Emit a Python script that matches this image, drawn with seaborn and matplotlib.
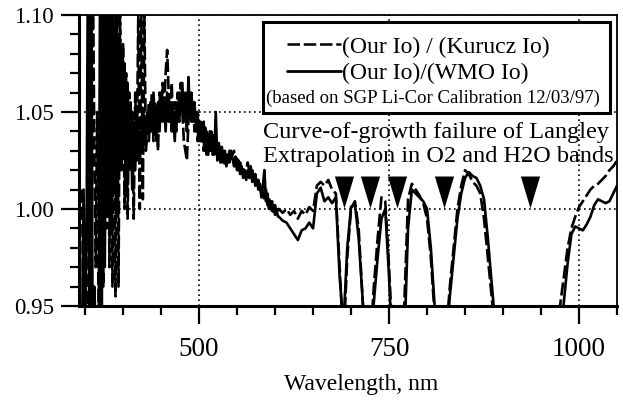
import numpy as np
import pandas as pd
import matplotlib
matplotlib.use("Agg")
import matplotlib.pyplot as plt
import seaborn as sns
from matplotlib.lines import Line2D
from matplotlib.patches import Rectangle
from matplotlib.ticker import MultipleLocator, FormatStrFormatter

# wavelength grid, nm (2 nm steps in the noisy blue part, 5 nm beyond)
wl_blue = np.arange(346, 606, 2)
wl_red = np.arange(605, 1055, 5)

# (Our Io)/(WMO Io) -- solid
wmo_blue = [
    0.93, 1.01, 0.94, 0.99, 1.15, 0.90, 1.16, 0.92, 0.96, 0.94,
    0.93, 0.94, 1.15, 0.95, 1.12, 0.97, 1.13, 1.00, 1.15, 0.99,
    1.12, 1.01, 1.10, 1.00, 1.09, 1.02, 1.08, 1.03, 1.075, 1.01,
    1.065, 1.02, 1.055, 1.01, 1.045, 1.02, 1.05, 1.03, 1.04, 1.03,
    1.05, 1.035, 1.045, 1.05, 1.035, 1.055, 1.04, 1.06, 1.045, 1.035,
    1.055, 1.04, 1.06, 1.045, 1.055, 1.04, 1.06, 1.045, 1.055, 1.04,
    1.05, 1.035, 1.055, 1.045, 1.06, 1.05, 1.065, 1.045, 1.06, 1.04,
    1.068, 1.05, 1.06, 1.045, 1.055, 1.04, 1.05, 1.035, 1.045, 1.035,
    1.045, 1.03, 1.04, 1.028, 1.04, 1.03, 1.038, 1.028, 1.05, 1.025,
    1.034, 1.024, 1.032, 1.026, 1.03, 1.022, 1.028, 1.024, 1.03, 1.026,
    1.022, 1.027, 1.02, 1.025, 1.018, 1.022, 1.016, 1.02, 1.015, 1.02,
    1.016, 1.022, 1.014, 1.018, 1.012, 1.015, 1.01, 1.013, 1.006, 1.012,
    1.02, 1.004, 1.008, 1.0, 1.004, 0.999, 1.002, 0.997, 0.999, 0.996,
]
wmo_red = [
    0.996, 0.994, 0.993, 0.99, 0.987, 0.984, 0.989, 0.99, 0.993, 0.99,
    1.008, 1.011, 1.004, 1.006, 1.003, 1.006, 0.965, 0.94, 0.98, 1.001,
    1.003, 0.985, 0.955, 0.92, 0.92, 0.952, 0.975, 0.995, 1.0, 0.965,
    0.92, 0.90, 0.90, 0.93, 0.99, 1.010, 1.008, 1.006, 1.004, 1.0,
    0.98, 0.95, 0.92, 0.90, 0.93, 0.955, 0.975, 0.995, 1.008, 1.016,
    1.019, 1.017, 1.016, 1.012, 1.005, 0.985, 0.962, 0.94, 0.92, 0.90,
    0.90, 0.90, 0.90, 0.90, 0.90, 0.90, 0.90, 0.90, 0.90, 0.90,
    0.90, 0.90, 0.90, 0.92, 0.935, 0.952, 0.972, 0.987, 0.991, 0.99,
    0.989, 0.992, 0.996, 1.002, 1.005, 1.004, 1.003, 1.004, 1.008, 1.012,
]

# (Our Io)/(Kurucz Io) -- dashed
kurucz_blue = [
    1.01, 0.94, 0.99, 0.93, 0.92, 1.16, 0.91, 1.14, 1.04, 0.97,
    1.05, 0.93, 0.93, 1.14, 0.96, 1.15, 0.99, 1.12, 0.97, 1.11,
    0.96, 1.09, 0.955, 1.13, 0.96, 1.10, 1.02, 1.085, 1.00, 1.07,
    0.995, 1.06, 1.03, 1.05, 0.995, 1.06, 1.025, 1.10, 1.00, 1.10,
    1.005, 1.10, 1.03, 1.04, 1.055, 1.04, 1.06, 1.035, 1.055, 1.05,
    1.03, 1.06, 1.045, 1.065, 1.05, 1.07, 1.082, 1.06, 1.045, 1.065,
    1.04, 1.055, 1.04, 1.06, 1.045, 1.065, 1.05, 1.035, 1.03, 1.025,
    1.045, 1.06, 1.045, 1.055, 1.04, 1.05, 1.035, 1.045, 1.035, 1.04,
    1.03, 1.042, 1.028, 1.038, 1.03, 1.04, 1.028, 1.036, 1.03, 1.034,
    1.026, 1.032, 1.024, 1.03, 1.022, 1.028, 1.024, 1.03, 1.026, 1.028,
    1.03, 1.022, 1.026, 1.02, 1.024, 1.02, 1.022, 1.017, 1.02, 1.024,
    1.02, 1.018, 1.02, 1.015, 1.018, 1.012, 1.015, 1.01, 1.012, 1.008,
    1.004, 1.01, 1.002, 1.006, 1.0, 1.004, 0.998, 1.002, 0.997, 1.0,
]
kurucz_red = [
    1.0, 0.998, 1.0, 0.997, 0.999, 0.995, 0.999, 0.997, 1.001, 0.999,
    1.012, 1.014, 1.012, 1.015, 1.01, 1.008, 0.97, 0.93, 0.975, 1.0,
    1.004, 0.99, 0.955, 0.92, 0.93, 0.96, 0.985, 1.006, 1.004, 0.97,
    0.93, 0.90, 0.91, 0.95, 1.005, 1.013, 1.01, 1.007, 1.003, 0.995,
    0.975, 0.945, 0.92, 0.91, 0.935, 0.96, 0.98, 1.0, 1.012, 1.02,
    1.018, 1.014, 1.012, 1.008, 0.995, 0.975, 0.955, 0.935, 0.91, 0.90,
    0.90, 0.90, 0.90, 0.90, 0.90, 0.90, 0.90, 0.90, 0.90, 0.90,
    0.90, 0.90, 0.91, 0.93, 0.95, 0.965, 0.98, 0.99, 0.996, 1.001,
    1.004, 1.007, 1.01, 1.012, 1.013, 1.015, 1.017, 1.02, 1.022, 1.025,
]

# O2 / H2O bands marked with arrows
band_nm = [691, 725, 760, 822, 935]
band_y = [1.009, 1.009, 1.009, 1.009, 1.009]

wl = np.concatenate([wl_blue, wl_red])
df = pd.DataFrame({
    "wl": np.concatenate([wl, wl]),
    "ratio": kurucz_blue + kurucz_red + wmo_blue + wmo_red,
    "series": ["kurucz"] * len(wl) + ["wmo"] * len(wl),
})

sns.set_style("ticks", {"axes.edgecolor": "black", "xtick.color": "black",
                        "ytick.color": "black", "text.color": "black",
                        "axes.labelcolor": "black"})
plt.rcParams["font.family"] = ["Liberation Serif", "DejaVu Serif"]

fig = plt.figure(figsize=(6.23, 4.03), dpi=100)
ax = fig.add_axes([0.1268, 0.2407, 0.8636, 0.7221])

sns.lineplot(data=df, x="wl", y="ratio", style="series",
             style_order=["kurucz", "wmo"],
             dashes={"kurucz": (5, 1.5), "wmo": ""},
             color="black", lw=1.9, errorbar=None, legend=False, ax=ax)

tri = [(-0.6, 1), (0.6, 1), (0, -1)]
sns.scatterplot(x=band_nm, y=band_y, marker=tri, s=530, color="black",
                edgecolor="black", linewidth=0, zorder=3, ax=ax)

ax.set_xlim(342, 1050)
ax.set_ylim(0.95, 1.10)
ax.xaxis.set_major_locator(MultipleLocator(250))
ax.xaxis.set_minor_locator(MultipleLocator(50))
ax.yaxis.set_major_locator(MultipleLocator(0.05))
ax.yaxis.set_minor_locator(MultipleLocator(0.01))
ax.yaxis.set_major_formatter(FormatStrFormatter("%.2f"))
ax.tick_params(which="major", direction="out", length=13, width=1.6)
ax.tick_params(which="minor", direction="out", length=6.5, width=1.6)
ax.tick_params(axis="x", labelsize=19.5, pad=9)
ax.tick_params(axis="y", labelsize=16.5, pad=5)
for s in ["left", "bottom"]:
    ax.spines[s].set_linewidth(2.2)
for s in ["top", "right"]:
    ax.spines[s].set_linewidth(1.3)

ax.grid(which="major", linestyle=(0, (1, 2)), color="black", linewidth=1.2)
ax.set_axisbelow(True)

ax.set_xlabel("Wavelength, nm", fontsize=17, color="black")
ax.set_ylabel("")
ax.xaxis.set_label_coords(0.524, -0.235)

# legend box
ax.add_patch(Rectangle((0.342, 0.663), 0.645, 0.313, transform=ax.transAxes,
                       facecolor="white", edgecolor="black", lw=2.2, zorder=4))
handles = [Line2D([], [], color="black", lw=1.8, dashes=(5, 1.5)),
           Line2D([], [], color="black", lw=2.0)]
leg = ax.legend(handles, ["(Our Io) / (Kurucz Io)", "(Our Io)/(WMO Io)"],
                loc="upper left", bbox_to_anchor=(0.3866, 0.927),
                frameon=False, fontsize=17, handlelength=2.3,
                handletextpad=0.05, borderpad=0, borderaxespad=0,
                labelspacing=0.22)
leg.set_zorder(5)
ax.text(0.3476, 0.715, "(based on SGP Li-Cor Calibration 12/03/97)",
        transform=ax.transAxes, fontsize=13.5, va="center", zorder=6)

ax.text(0.342, 0.577, "Curve-of-growth failure of Langley",
        transform=ax.transAxes, fontsize=17.5, va="baseline")
ax.text(0.342, 0.495, "Extrapolation in O2 and H2O bands",
        transform=ax.transAxes, fontsize=17.5, va="baseline")

fig.savefig("out.png", dpi=100)
